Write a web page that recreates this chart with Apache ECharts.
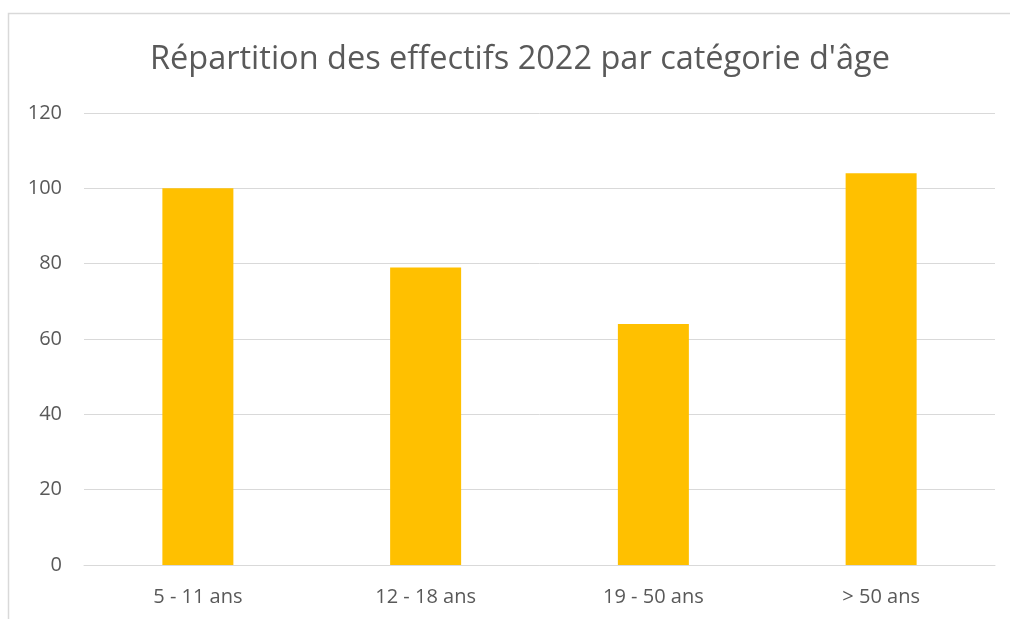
<!DOCTYPE html>
<html>
<head>
<meta charset="utf-8">
<script src="https://cdn.jsdelivr.net/npm/echarts@6/dist/echarts.min.js"></script>
<style>
  html, body { margin: 0; padding: 0; background: #fff; }
  #chart { width: 1010px; height: 619px; }
</style>
</head>
<body>
<div id="chart"></div>
<script>
// données
const categories = ['5 - 11 ans', '12 - 18 ans', '19 - 50 ans', '> 50 ans']
const effectifs = [100, 79, 64, 104]
const titre = "Répartition des effectifs 2022 par catégorie d'âge"

const chart = echarts.init(document.getElementById('chart'))

chart.setOption({
  backgroundColor: '#fff',
  animation: false,
  // cadre gris clair (haut et gauche seulement visibles)
  graphic: [
    {
      type: 'polyline',
      shape: { points: [[8.5, 619], [8.5, 13.5], [1010, 13.5]] },
      style: { stroke: '#d9d9d9', lineWidth: 1.5, fill: null },
      silent: true
    }
  ],
  title: {
    text: titre,
    left: 145,
    top: 38,
    textStyle: {
      fontFamily: 'Open Sans',
      fontSize: 32.5,
      fontWeight: 'normal',
      color: '#595959'
    }
  },
  grid: {
    left: 84,
    right: 15,
    top: 113,
    bottom: 54
  },
  xAxis: {
    type: 'category',
    data: categories,
    axisLine: { show: true, lineStyle: { color: '#d9d9d9', width: 1 } },
    axisTick: { show: false },
    axisLabel: {
      fontFamily: 'Open Sans',
      fontSize: 20,
      color: '#595959',
      margin: 22
    }
  },
  yAxis: {
    type: 'value',
    min: 0,
    max: 120,
    interval: 20,
    axisLine: { show: false },
    axisTick: { show: false },
    splitLine: { lineStyle: { color: '#d9d9d9', width: 1 } },
    axisLabel: {
      fontFamily: 'Open Sans',
      fontSize: 20,
      color: '#595959',
      margin: 22
    }
  },
  series: [
    {
      type: 'bar',
      data: effectifs,
      barWidth: 71,
      itemStyle: { color: '#ffc000' }
    }
  ]
})
</script>
</body>
</html>
